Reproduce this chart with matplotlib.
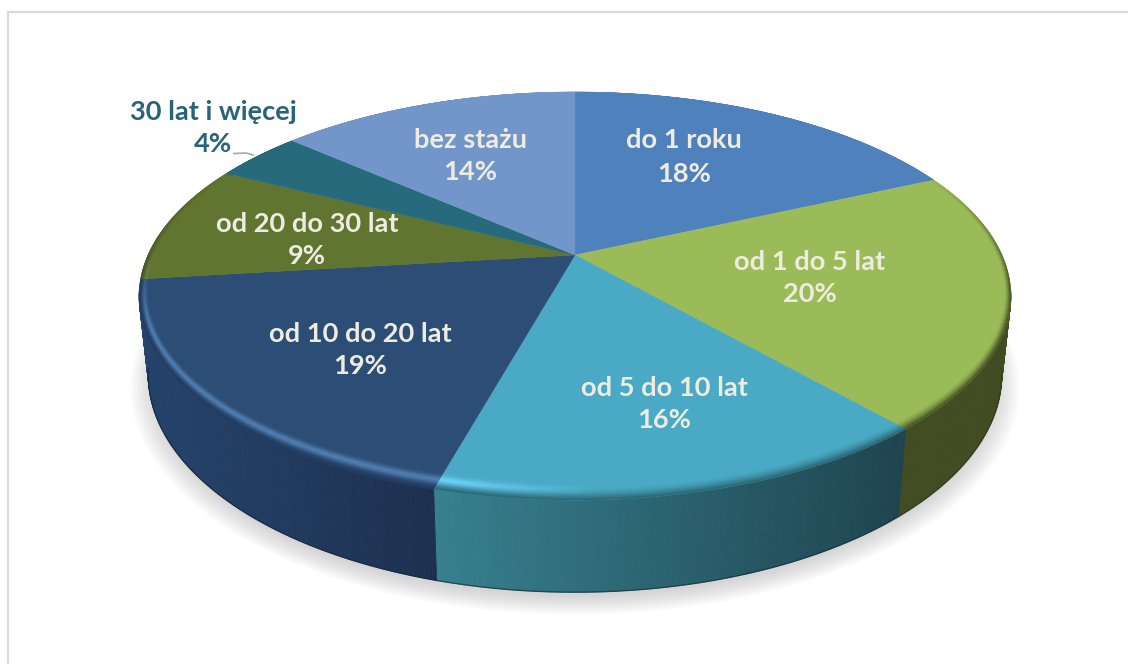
import numpy as np
import matplotlib.pyplot as plt
from matplotlib.collections import PolyCollection
from matplotlib.colors import to_rgb

# clockwise from 12 o'clock
labels = ['do 1 roku', 'od 1 do 5 lat', 'od 5 do 10 lat', 'od 10 do 20 lat',
          'od 20 do 30 lat', '30 lat i więcej', 'bez stażu']
values = [18.2, 20.4, 15.7, 18.8, 9.4, 4.0, 13.5]
colors = ['#4F81BD', '#9BBB59', '#4AAAC5', '#2C4D75', '#5F7530', '#276A7C', '#7295CA']
# side wall colour at the left and right end of each slice
side_left = ['#2C4D75', '#414C22', '#37808F', '#25436B', '#414C22', '#1D4F5C', '#2C4D75']
side_right = ['#2C4D75', '#414C22', '#1E444F', '#1D3050', '#414C22', '#1D4F5C', '#2C4D75']

# projection of the tilted disc, in pixels of the figure
CX, CY = 575, 255
TILT = 0.201


def rim_top(theta, r=1.0):
    u, v = r * np.sin(theta), -r * np.cos(theta)
    w = 1 - TILT * v
    return CX + 427 * u / w, CY + 195.8 * v / w


def rim_bottom(theta, r=1.0):
    u, v = r * np.sin(theta), -r * np.cos(theta)
    w = 1 - TILT * v
    return CX + 418 * u / w, 331 + 208.7 * v / w


def mix(a, b, t):
    return (1 - t) * np.array(a) + t * np.array(b)


def bevel_width(theta):
    # the rounded edge looks wide at the front, thin at the sides
    v = -np.cos(theta)
    return 0.018 + 0.037 * np.clip(v, 0, 1) ** 2


def bevel_color(theta, t, base, side):
    u, v = np.sin(theta), -np.cos(theta)
    front = np.clip((v + 0.45) / 0.6, 0, 1)
    dark = front * np.clip((t - 0.3) / 0.7, 0, 1) ** 1.5
    lit = np.clip(v / 0.35, 0, 1)
    glow = np.clip((-u + 0.05) / 0.3, 0, 1) * 0.3 * lit * np.exp(-((t - 0.42) / 0.26) ** 2)
    c = mix(base, side, dark)
    return np.clip(c + glow * (np.array([0.55, 0.75, 0.95]) - 0.25 * c), 0, 1)


fig = plt.figure(figsize=(11.28, 6.64), dpi=100)
ax = fig.add_axes([0, 0, 1, 1])
ax.set_xlim(0, 1128)
ax.set_ylim(664, 0)
ax.axis('off')

# chart frame
ax.plot([8, 8, 1128], [664, 12, 12], color='#D9D9D9', lw=1.6, solid_joinstyle='miter')

# soft shadow below the disc
circle = np.linspace(0, 2 * np.pi, 361)
for r in np.linspace(1.04, 0.985, 12):
    sx, sy = rim_bottom(circle, r)
    ax.fill(sx, sy + 9, color='#888888', alpha=0.03, lw=0, zorder=1)

edges = np.radians(np.cumsum([0] + values) * 3.6)

# side wall, thin strips so the colour can run along x
for i in range(len(values)):
    th = np.linspace(edges[i], edges[i + 1], 150)
    th = th[-np.cos(th) > 0.17] if (-np.cos(th) > 0.17).any() else []
    if len(th) < 2:
        continue
    strips, strip_cols = [], []
    xs, _ = rim_top(th)
    for a, b in zip(th[:-1], th[1:]):
        (x0, y0), (x1, y1) = rim_top(a), rim_top(b)
        (x2, y2), (x3, y3) = rim_bottom(b), rim_bottom(a)
        strips.append([(x0, y0), (x1, y1), (x2, y2), (x3, y3)])
        f = ((x0 + x1) / 2 - xs.min()) / (xs.max() - xs.min())
        strip_cols.append(mix(to_rgb(side_left[i]), to_rgb(side_right[i]), f))
    ax.add_collection(PolyCollection(strips, facecolors=strip_cols, edgecolors=strip_cols,
                                     linewidths=0.6, zorder=2))
    bx, by = rim_bottom(th)
    ax.plot(bx, by, color=mix(to_rgb(side_right[i]), (0, 0, 0), 0.25), lw=1, alpha=0.7, zorder=3)

# top face with rounded edge
for i in range(len(values)):
    th = np.linspace(edges[i], edges[i + 1], 150)
    px, py = rim_top(th)
    ax.fill(np.r_[CX, px], np.r_[CY, py], color=colors[i], lw=0.3, zorder=4)

    base, side = to_rgb(colors[i]), mix(to_rgb(side_left[i]), to_rgb(side_right[i]), 0.5)
    steps = np.linspace(0, 1, 11)
    quads, cols = [], []
    for t0, t1 in zip(steps[:-1], steps[1:]):
        for a, b in zip(th[:-1], th[1:]):
            wa, wb = bevel_width(a), bevel_width(b)
            quads.append([rim_top(a, 1 - (1 - t0) * wa), rim_top(b, 1 - (1 - t0) * wb),
                          rim_top(b, 1 - (1 - t1) * wb), rim_top(a, 1 - (1 - t1) * wa)])
            cols.append(bevel_color((a + b) / 2, (t0 + t1) / 2, base, side))
    ax.add_collection(PolyCollection(quads, facecolors=cols, edgecolors=cols,
                                     linewidths=0.3, zorder=5))

# labels
label_xy = [(684, 157), (810, 278), (664, 404), (360, 350), (307, 240), (213, 128), (470, 156)]
for name, val, (x, y) in zip(labels, values, label_xy):
    col = '#276479' if name.startswith('30') else '#EEECE1'
    ax.text(x, y, f'{name}\n{round(val)}%', color=col, fontsize=19.6, family='Lato', weight='bold',
            ha='center', va='center', linespacing=1.45, zorder=6)

# leader line of the outside label
ax.plot([234, 246, 253], [153.5, 153, 155], color='#A6A6A6', lw=1.2, zorder=6)

fig.savefig('out.png', dpi=100)
